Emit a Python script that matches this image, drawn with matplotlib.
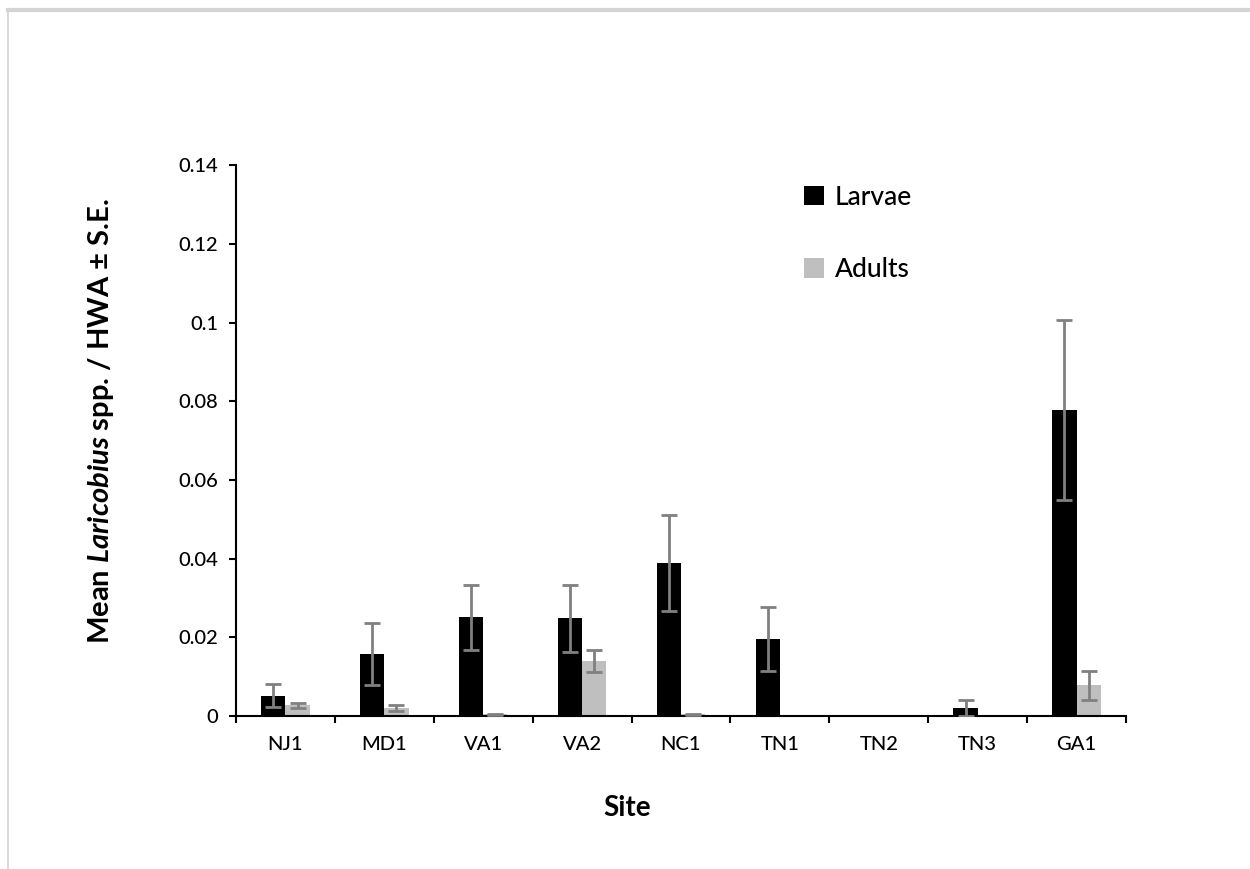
import numpy as np
import matplotlib
matplotlib.use("Agg")
import matplotlib.pyplot as plt
from matplotlib.patches import Patch
from matplotlib.lines import Line2D

sites = ["NJ1", "MD1", "VA1", "VA2", "NC1", "TN1", "TN2", "TN3", "GA1"]
larvae = [0.0052, 0.0158, 0.0251, 0.0248, 0.0390, 0.0196, 0.0, 0.0020, 0.0778]
larvae_se = [0.0029, 0.0079, 0.0083, 0.0085, 0.0122, 0.0082, 0.0, 0.0021, 0.0228]
adults = [0.0027, 0.0020, 0.0004, 0.0140, 0.0004, 0.0, 0.0, 0.0, 0.0078]
adults_se = [0.0007, 0.0007, 0.0002, 0.0027, 0.0002, 0.0, 0.0, 0.0, 0.0037]
yticks = [0, 0.02, 0.04, 0.06, 0.08, 0.1, 0.12, 0.14]
ytick_labels = ["0", "0.02", "0.04", "0.06", "0.08", "0.1", "0.12", "0.14"]

plt.rcParams['font.family'] = ['Lato', 'DejaVu Sans']
plt.rcParams['font.weight'] = 'medium'
plt.rcParams['mathtext.fontset'] = 'custom'
plt.rcParams['mathtext.it'] = 'Lato:italic:bold'
plt.rcParams['mathtext.rm'] = 'Lato:bold'

fig = plt.figure(figsize=(12.5, 8.69), dpi=100)
ax = fig.add_axes([0.1888, 0.176, 0.712, 0.634])

x = np.arange(len(sites))
w = 0.245
ax.bar(x - w/2, larvae, width=w, color="black", zorder=2)
ax.bar(x + w/2, adults, width=w, color="#bfbfbf", zorder=2)

lv = np.array(larvae); ls = np.array(larvae_se)
av = np.array(adults); as_ = np.array(adults_se)
m = lv > 0
ax.errorbar((x - w/2)[m], lv[m], yerr=ls[m], fmt="none", ecolor="#808080",
            elinewidth=2, capsize=6, capthick=2, zorder=3)
m = av > 0
ax.errorbar((x + w/2)[m], av[m], yerr=as_[m], fmt="none", ecolor="#808080",
            elinewidth=2, capsize=6, capthick=2, zorder=3)

ax.set_xlim(-0.5, len(sites) - 0.5)
ax.set_ylim(0, 0.14)
ax.set_yticks(yticks)
ax.set_yticklabels(ytick_labels)
ax.set_xticks(np.arange(-0.5, len(sites), 1.0))
ax.set_xticklabels([])
ax.set_xticks(x, minor=True)
ax.set_xticklabels(sites, minor=True)
ax.tick_params(axis="x", which="minor", length=0, pad=14, labelsize=14.5)
ax.tick_params(axis="x", which="major", direction="out", length=5, width=1.5)
ax.tick_params(axis="y", direction="out", length=5, width=1.5, labelsize=14.5, pad=8)

for s in ["top", "right"]:
    ax.spines[s].set_visible(False)
for s in ["left", "bottom"]:
    ax.spines[s].set_linewidth(1.5)

ax.set_xlabel("Site", fontsize=20, fontweight="bold")
ax.xaxis.set_label_coords(0.44, -0.143)
ax.set_ylabel(r"Mean $\mathit{Laricobius}$ spp. / HWA ± S.E.", fontsize=21,
              fontweight="bold")
ax.yaxis.set_label_coords(-0.135, 0.535)

handles = [Patch(facecolor="black", label="Larvae"),
           Patch(facecolor="#bfbfbf", label="Adults")]
ax.legend(handles=handles, loc="upper left", bbox_to_anchor=(0.615, 1.003),
          frameon=False, fontsize=19, handlelength=0.75, handleheight=0.75,
          handletextpad=0.4, labelspacing=1.8, borderpad=0.3)

fig.add_artist(Line2D([0.0065, 0.0065], [0, 0.988], color="#d4d4d4", lw=1.2))
fig.add_artist(Line2D([0.0065, 1.0], [0.988, 0.988], color="#d4d4d4", lw=3))

fig.savefig("out.png", dpi=100)
